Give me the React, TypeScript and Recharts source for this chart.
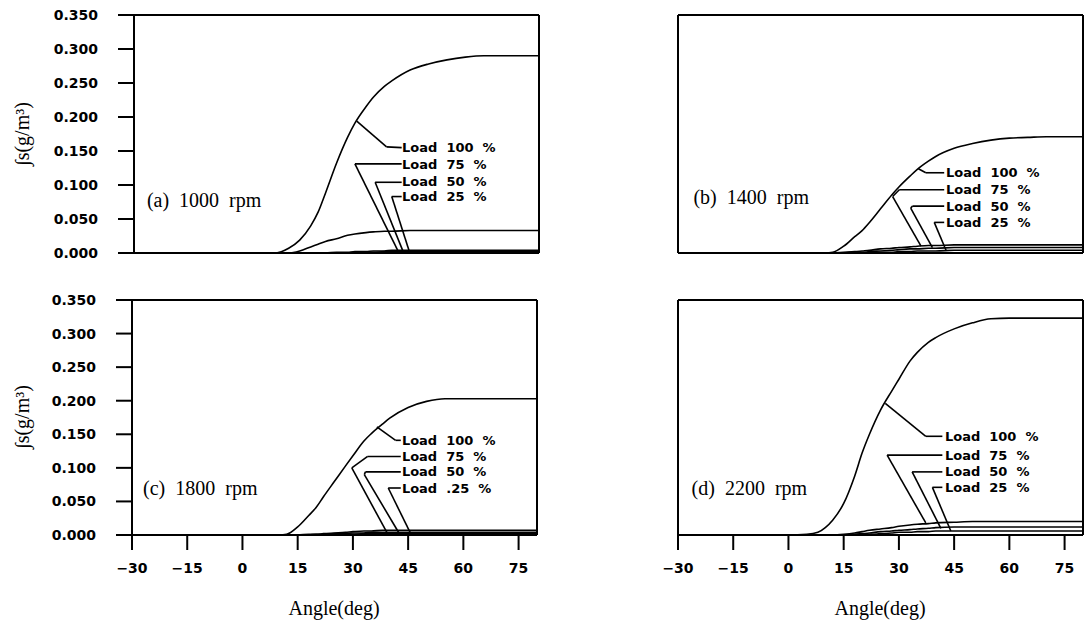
import { Line, LineChart, ReferenceDot, ReferenceLine, XAxis, YAxis } from "recharts";

const ANGLES = [-30, 0, 5, 8, 10, 12, 15, 18, 20, 22, 25, 28, 30, 33, 35, 38, 40, 45, 50, 55, 60, 65, 70, 80];
const X_TICKS = [-30, -15, 0, 15, 30, 45, 60, 75];
const Y_TICKS = [0, 0.05, 0.1, 0.15, 0.2, 0.25, 0.3, 0.35];

// (a) 1000 rpm
const A_100 = [0, 0, 0, 0, 0.002, 0.007, 0.019, 0.04, 0.06, 0.088, 0.132, 0.17, 0.191, 0.215, 0.229, 0.245, 0.253, 0.269, 0.278, 0.284, 0.288, 0.29, 0.29, 0.29];
const A_75 = [0, 0, 0, 0, 0, 0, 0.003, 0.009, 0.013, 0.017, 0.021, 0.026, 0.028, 0.03, 0.031, 0.032, 0.032, 0.033, 0.033, 0.033, 0.033, 0.033, 0.033, 0.033];
const A_50 = [0, 0, 0, 0, 0, 0, 0, 0, 0, 0, 0.001, 0.001, 0.002, 0.002, 0.003, 0.003, 0.004, 0.004, 0.004, 0.004, 0.004, 0.004, 0.004, 0.004];
const A_25 = [0, 0, 0, 0, 0, 0, 0, 0, 0, 0, 0, 0, 0.001, 0.001, 0.001, 0.002, 0.002, 0.002, 0.002, 0.002, 0.002, 0.002, 0.002, 0.002];

// (b) 1400 rpm
const B_100 = [0, 0, 0, 0, 0, 0.001, 0.01, 0.024, 0.033, 0.045, 0.065, 0.085, 0.097, 0.113, 0.123, 0.135, 0.142, 0.154, 0.161, 0.166, 0.169, 0.17, 0.171, 0.171];
const B_75 = [0, 0, 0, 0, 0, 0, 0.001, 0.002, 0.003, 0.004, 0.006, 0.007, 0.008, 0.009, 0.01, 0.011, 0.011, 0.012, 0.012, 0.012, 0.012, 0.012, 0.012, 0.012];
const B_50 = [0, 0, 0, 0, 0, 0, 0, 0.001, 0.001, 0.002, 0.003, 0.004, 0.005, 0.006, 0.006, 0.007, 0.007, 0.008, 0.008, 0.008, 0.008, 0.008, 0.008, 0.008];
const B_25 = [0, 0, 0, 0, 0, 0, 0, 0, 0, 0, 0.001, 0.001, 0.002, 0.002, 0.003, 0.003, 0.003, 0.004, 0.004, 0.004, 0.004, 0.004, 0.004, 0.004];

// (c) 1800 rpm
const C_100 = [0, 0, 0, 0, 0, 0.001, 0.012, 0.029, 0.041, 0.057, 0.08, 0.103, 0.118, 0.14, 0.151, 0.165, 0.174, 0.19, 0.199, 0.203, 0.203, 0.203, 0.203, 0.203];
const C_75 = [0, 0, 0, 0, 0, 0, 0, 0.001, 0.001, 0.002, 0.003, 0.004, 0.005, 0.006, 0.006, 0.007, 0.007, 0.007, 0.007, 0.007, 0.007, 0.007, 0.007, 0.007];
const C_50 = [0, 0, 0, 0, 0, 0, 0, 0, 0.001, 0.001, 0.002, 0.002, 0.003, 0.003, 0.004, 0.004, 0.004, 0.004, 0.004, 0.004, 0.004, 0.004, 0.004, 0.004];
const C_25 = [0, 0, 0, 0, 0, 0, 0, 0, 0, 0, 0.001, 0.001, 0.001, 0.002, 0.002, 0.002, 0.002, 0.002, 0.002, 0.002, 0.002, 0.002, 0.002, 0.002];

// (d) 2200 rpm
const D_100 = [0, 0, 0.001, 0.004, 0.011, 0.022, 0.047, 0.088, 0.122, 0.15, 0.186, 0.214, 0.232, 0.259, 0.272, 0.287, 0.294, 0.307, 0.316, 0.322, 0.323, 0.323, 0.323, 0.323];
const D_75 = [0, 0, 0, 0, 0, 0, 0.001, 0.003, 0.005, 0.007, 0.009, 0.011, 0.013, 0.015, 0.016, 0.017, 0.018, 0.019, 0.02, 0.02, 0.02, 0.02, 0.02, 0.02];
const D_50 = [0, 0, 0, 0, 0, 0, 0, 0.001, 0.002, 0.003, 0.005, 0.006, 0.007, 0.008, 0.009, 0.01, 0.011, 0.012, 0.012, 0.012, 0.012, 0.012, 0.012, 0.012];
const D_25 = [0, 0, 0, 0, 0, 0, 0, 0, 0.001, 0.001, 0.002, 0.003, 0.004, 0.004, 0.005, 0.005, 0.006, 0.006, 0.006, 0.006, 0.006, 0.006, 0.006, 0.006];

type Pt = [number, number];
type Leader = { text: string; at: Pt; path: Pt[] };

// callouts, in data units (angle, value)
const LEADERS_A: Leader[] = [
  { text: "Load  100  %", at: [42.8, 0.155], path: [[30.5, 0.194], [38.6, 0.156], [42.7, 0.155]] },
  { text: "Load  75  %", at: [42.8, 0.130], path: [[42.7, 0.131], [30.0, 0.131], [41.8, 0.002]] },
  { text: "Load  50  %", at: [42.8, 0.105], path: [[42.7, 0.104], [35.5, 0.104], [43.1, 0.002]] },
  { text: "Load  25  %", at: [42.8, 0.083], path: [[42.7, 0.083], [40.0, 0.083], [44.8, 0.002]] },
];
const LEADERS_B: Leader[] = [
  { text: "Load  100  %", at: [42.8, 0.118], path: [[35.3, 0.124], [37.3, 0.118], [42.3, 0.118]] },
  { text: "Load  75  %", at: [42.8, 0.093], path: [[42.3, 0.093], [30.1, 0.093], [28.3, 0.083], [36.0, 0.010]] },
  { text: "Load  50  %", at: [42.8, 0.069], path: [[42.3, 0.069], [33.7, 0.069], [33.2, 0.066], [39.1, 0.008]] },
  { text: "Load  25  %", at: [42.8, 0.045], path: [[42.3, 0.045], [39.6, 0.045], [42.8, 0.004]] },
];
const LEADERS_C: Leader[] = [
  { text: "Load  100  %", at: [43.3, 0.141], path: [[36.5, 0.161], [41.6, 0.141], [43.0, 0.141]] },
  { text: "Load  75  %", at: [43.3, 0.117], path: [[43.0, 0.117], [34.0, 0.117], [29.7, 0.100], [39.3, 0.003]] },
  { text: "Load  50  %", at: [43.3, 0.094], path: [[43.0, 0.094], [33.4, 0.094], [33.1, 0.090], [42.5, 0.003]] },
  { text: "Load  .25  %", at: [43.3, 0.070], path: [[43.0, 0.070], [39.6, 0.070], [45.7, 0.002]] },
];
const LEADERS_D: Leader[] = [
  { text: "Load  100  %", at: [42.5, 0.147], path: [[26.3, 0.196], [37.3, 0.147], [41.8, 0.147]] },
  { text: "Load  75  %", at: [42.5, 0.119], path: [[41.8, 0.119], [26.8, 0.119], [37.3, 0.018]] },
  { text: "Load  50  %", at: [42.5, 0.094], path: [[41.8, 0.094], [33.6, 0.094], [41.4, 0.010]] },
  { text: "Load  25  %", at: [42.5, 0.071], path: [[41.8, 0.071], [39.1, 0.071], [44.1, 0.006]] },
];

const SANS = "DejaVu Sans";
const SERIF = "Liberation Serif";
const AXIS = { stroke: "#000", strokeWidth: 2 };
const TICK_FONT = { fill: "#000", fontSize: 14, fontFamily: SANS, fontWeight: "bold" };

type PanelProps = {
  left: number;
  top: number;
  width: number;
  height: number;
  yAxisWidth: number;
  xAxisHeight: number;
  yLabels: boolean;
  xLabels: boolean;
  title: string;
  titleAt: Pt;
  series: number[][];
  leaders: Leader[];
};

function Panel(p: PanelProps) {
  const data = ANGLES.map((a, i) => ({
    angle: a,
    l100: p.series[0][i],
    l75: p.series[1][i],
    l50: p.series[2][i],
    l25: p.series[3][i],
  }));
  const segments: { a: Pt; b: Pt }[] = [];
  p.leaders.forEach((l) => {
    for (let i = 0; i < l.path.length - 1; i++) segments.push({ a: l.path[i], b: l.path[i + 1] });
  });
  return (
    <div style={{ position: "absolute", left: p.left, top: p.top }}>
      <LineChart
        width={p.width}
        height={p.height}
        data={data}
        margin={{ top: 15, right: p.width - p.yAxisWidth - 405, bottom: 0, left: 0 }}
      >
        <XAxis
          type="number"
          dataKey="angle"
          domain={[-30, 80]}
          ticks={X_TICKS}
          interval={0}
          height={p.xAxisHeight}
          tickSize={15}
          tickMargin={13}
          tick={p.xLabels ? TICK_FONT : false}
          tickFormatter={(v: number) => (v < 0 ? `\u2212${-v}` : `${v}`)}
          axisLine={AXIS}
          tickLine={AXIS}
        />
        <YAxis
          type="number"
          domain={[0, 0.35]}
          ticks={Y_TICKS}
          interval={0}
          width={p.yAxisWidth}
          tickSize={16}
          tickMargin={20}
          tick={p.yLabels ? TICK_FONT : false}
          tickFormatter={(v: number) => v.toFixed(3)}
          axisLine={AXIS}
          tickLine={AXIS}
        />
        <ReferenceLine y={0.35} stroke="#000" strokeWidth={2} />
        <ReferenceLine x={80} stroke="#000" strokeWidth={2} />
        <Line type="monotone" dataKey="l25" stroke="#000" strokeWidth={1.6} dot={false} isAnimationActive={false} />
        <Line type="monotone" dataKey="l50" stroke="#000" strokeWidth={1.6} dot={false} isAnimationActive={false} />
        <Line type="monotone" dataKey="l75" stroke="#000" strokeWidth={1.6} dot={false} isAnimationActive={false} />
        <Line type="monotone" dataKey="l100" stroke="#000" strokeWidth={1.6} dot={false} isAnimationActive={false} />
        {segments.map((s, i) => (
          <ReferenceLine
            key={`seg-${i}`}
            segment={[{ x: s.a[0], y: s.a[1] }, { x: s.b[0], y: s.b[1] }]}
            stroke="#000"
            strokeWidth={1.6}
          />
        ))}
        {p.leaders.map((l, i) => (
          <ReferenceDot
            key={`lab-${i}`}
            x={l.at[0]}
            y={l.at[1]}
            r={0}
            shape={(d: any) => (
              <text x={d.cx} y={d.cy} dominantBaseline="central" fill="#000" fontSize={13} fontFamily={SANS} fontWeight="bold" xmlSpace="preserve">
                {l.text}
              </text>
            )}
          />
        ))}
        <ReferenceDot
          x={p.titleAt[0]}
          y={p.titleAt[1]}
          r={0}
          shape={(d: any) => (
            <text x={d.cx} y={d.cy} dominantBaseline="central" fill="#000" fontSize={20} fontFamily={SERIF} xmlSpace="preserve">
              {p.title}
            </text>
          )}
        />
      </LineChart>
    </div>
  );
}

const yTitle: React.CSSProperties = {
  position: "absolute",
  left: 22,
  transform: "translate(-50%, -50%) rotate(-90deg)",
  fontFamily: SERIF,
  fontSize: 20,
  whiteSpace: "nowrap",
  color: "#000",
};
const xTitle: React.CSSProperties = {
  position: "absolute",
  top: 608,
  transform: "translate(-50%, -50%)",
  fontFamily: SERIF,
  fontSize: 20,
  whiteSpace: "nowrap",
  color: "#000",
};

export default function App() {
  return (
    <div style={{ position: "absolute", left: 0, top: 0, width: 1091, height: 623, background: "#fff", overflow: "hidden" }}>
      <Panel left={0} top={0} width={545} height={300} yAxisWidth={134} xAxisHeight={47} yLabels xLabels={false}
        title="(a)  1000  rpm" titleAt={[-26.5, 0.078]} series={[A_100, A_75, A_50, A_25]} leaders={LEADERS_A} />
      <Panel left={544} top={0} width={547} height={300} yAxisWidth={134} xAxisHeight={47} yLabels={false} xLabels={false}
        title="(b)  1400  rpm" titleAt={[-25.8, 0.083]} series={[B_100, B_75, B_50, B_25]} leaders={LEADERS_B} />
      <Panel left={0} top={285} width={545} height={338} yAxisWidth={132} xAxisHeight={88} yLabels xLabels
        title="(c)  1800  rpm" titleAt={[-27, 0.07]} series={[C_100, C_75, C_50, C_25]} leaders={LEADERS_C} />
      <Panel left={544} top={285} width={547} height={338} yAxisWidth={134} xAxisHeight={88} yLabels={false} xLabels
        title="(d)  2200  rpm" titleAt={[-26.3, 0.07]} series={[D_100, D_75, D_50, D_25]} leaders={LEADERS_D} />
      <div style={{ ...yTitle, top: 134 }}>∫s(g/m³)</div>
      <div style={{ ...yTitle, top: 417 }}>∫s(g/m³)</div>
      <div style={{ ...xTitle, left: 334 }}>Angle(deg)</div>
      <div style={{ ...xTitle, left: 880 }}>Angle(deg)</div>
    </div>
  );
}
